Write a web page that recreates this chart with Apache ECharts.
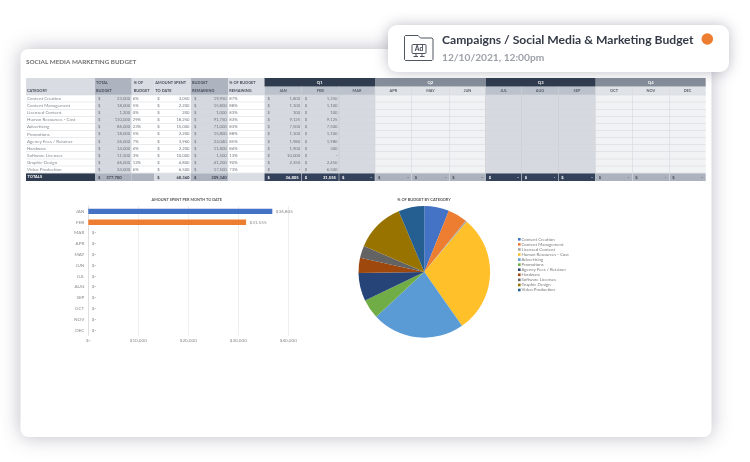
<!DOCTYPE html>
<html><head><meta charset="utf-8">
<style>html,body{margin:0;padding:0;background:#fff}#c{width:750px;height:462px}</style>
<script src="https://cdn.jsdelivr.net/npm/echarts@6/dist/echarts.min.js"></script>
</head><body><div id="c"></div>
<script>
const categories=['Content Creation','Content Management','Licensed Content','Human Resources - Cost','Advertising','Promotions','Agency Fees / Retainer','Hardware','Software Licenses','Graphic Design','Video Production'];
const totalBudget=[23000,18000,1200,110000,86000,18000,26000,14000,11500,46000,24000];
const pctBudget=['6%','5%','0%','29%','23%','5%','7%','4%','3%','12%','6%'];
const spent=[3050,2200,200,18250,15000,2200,3960,2200,10000,4800,6500];
const remaining=[19950,15800,1000,91750,71000,15800,22040,11800,1500,41200,17500];
const pctRemaining=['87%','88%','83%','83%','83%','88%','85%','84%','13%','90%','73%'];
const janSpend=[1800,1100,100,9125,7500,1100,1980,1900,10000,2350,0];
const febSpend=[1250,1100,100,9125,7500,1100,1980,300,0,2450,6500];
const totals={budget:377700,spent:68360,remaining:309340,jan:36805,feb:31555};
const months=['JAN','FEB','MAR','APR','MAY','JUN','JUL','AUG','SEP','OCT','NOV','DEC'];
const monthTotals=[36805,31555,0,0,0,0,0,0,0,0,0,0];
const barColors=['#4472c4','#ed7d31'];
const pieColors=['#4472c4','#ed7d31','#a5a5a5','#ffc02a','#5b9bd5','#70ad47','#264478','#9e480e','#636363','#997300','#255e91'];
const quarters=['Q1','Q2','Q3','Q4'];
const FONT='Lato, "Noto Sans", sans-serif';
const fmt=v=>v.toLocaleString('en-US');
const gr=[];
function rect(x,y,w,h,fill,z){gr.push({type:'rect',silent:true,z:z||2,shape:{x,y,width:w,height:h},style:{fill}});}
function txt(x,y,t,o){o=o||{};gr.push({type:'text',silent:true,z:o.z||4,x,y,style:{text:t,fill:o.c||'#70757d',font:(o.w||'400')+' '+(o.s||4.2)+'px '+(o.f||FONT),textAlign:o.a||'left',textVerticalAlign:'middle'}});}
function poly(pts,close){gr.push({type:'polyline',silent:true,z:21,shape:{points:close?pts.concat([pts[0]]):pts},style:{fill:'none',stroke:'#3c4250',lineWidth:0.9,lineJoin:'round'}});}
// sheet card
gr.push({type:'rect',silent:true,z:1,shape:{x:20.5,y:49,width:691,height:388,r:8},style:{fill:'#fff',shadowBlur:20,shadowColor:'rgba(70,70,95,0.36)'}});
txt(26,62,'SOCIAL MEDIA MARKETING BUDGET',{s:6.3,w:'700',c:'#707070'});
// table geometry
const colX=[26,95,131.7,154.3,191,228.3,264.5,301.7,339,375,411.7,449.3,485.7,521.7,558.3,595.7,632.3,669.3,705.7];
const y0=78,y1=86.5,y2=95,rowH=7.1,yT=y2+11*rowH+0.2,yEnd=181;
const HDK='#2f3b4f',HMID='#adb4c0',HLT='#d9dde3',SH='#d5d9df';
const colHeadFill=[HLT,HMID,HLT,HLT,HMID,HLT];
const colBody=['#fff',SH,'#fff','#fff',SH,'#fff'];
const colTot=[HDK,HMID,HMID,HLT,HMID,HLT];
for(let c=0;c<6;c++){
 const x=colX[c],w=colX[c+1]-x;
 rect(x,y0,w,y2-y0,colHeadFill[c]);
 rect(x,y2,w,yT-y2,colBody[c]);
 rect(x,yT,w,yEnd-yT,colTot[c]);
}
for(let c=6;c<18;c++){
 const q=Math.floor((c-6)/3),x=colX[c],w=colX[c+1]-x,dark=q%2==0;
 rect(x,y1,w,y2-y1,dark?'#bcc2cc':'#dfe2e6');
 rect(x,y2,w,yT-y2,dark?'#d6dae0':'#f1f2f3');
 rect(x,yT,w,yEnd-yT,dark?'#33415a':'#adb3be');
 txt(x+w/2,(y1+y2)/2,months[c-6],{a:'center',w:'700',c:'#5b616c',s:3.9});
 txt(x+3,(yT+yEnd)/2,'$',{c:dark?'#fff':'#444b57',w:'700'});
 const v=c==6?totals.jan:c==7?totals.feb:null;
 txt(x+w-3,(yT+yEnd)/2,v?fmt(v):'-',{a:'right',c:dark?'#fff':'#444b57',w:'700'});
 if(c>6)rect(x-0.3,y1,0.6,yEnd-y1,dark?'#c3c7ce':'#d4d7dc',3);
}
quarters.forEach((q,i)=>{const x=colX[6+i*3],w=colX[9+i*3]-x;
 rect(x,y0,w,y1-y0,i%2==0?HDK:'#868d9a');
 txt(x+w/2,(y0+y1)/2,q,{a:'center',w:'700',c:'#fff',s:4.2});
});
// header text
const headers=[['','CATEGORY'],['TOTAL','BUDGET'],['% OF','BUDGET'],['AMOUNT SPENT','TO DATE'],['BUDGET','REMAINING'],['% OF BUDGET','REMAINING']];
headers.forEach((h,c)=>{const x=colX[c]+1;const ax=c==2?colX[c]+1.5:x;
 txt(c==2?colX[c]+2:ax,(y0+y1)/2,h[0],{w:'700',c:'#4a505c',s:3.9});
 txt(c==2?colX[c]+2:ax,(y1+y2)/2,h[1],{w:'700',c:'#4a505c',s:3.9});
});
for(let r=0;r<=11;r++){rect(colX[0],y2+r*rowH-0.25,colX[18]-colX[0],0.5,'#d2d5da',3);}
categories.forEach((n,r)=>{const y=y2+(r+0.5)*rowH;
 txt(colX[0]+1,y,n,{s:4.5,c:'#858a91'});
 [[1,totalBudget],[3,spent],[4,remaining]].forEach(p=>{const c=p[0];
  txt(colX[c]+3,y,'$');txt(colX[c+1]-1.5,y,fmt(p[1][r]),{a:'right'});
 });
 txt(colX[2]+1,y,pctBudget[r]);txt(colX[5]+1,y,pctRemaining[r]);
 [[6,janSpend],[7,febSpend]].forEach(p=>{const c=p[0],v=p[1][r];
  txt(colX[c]+3,y,'$');txt(colX[c+1]-1.5,y,v?fmt(v):'-',{a:'right'});
 });
});
const ty=(yT+yEnd)/2;
txt(colX[0]+1.5,ty,'TOTALS',{c:'#fff',w:'700',s:4});
[[1,totals.budget],[3,totals.spent],[4,totals.remaining]].forEach(p=>{
 txt(colX[p[0]]+3,ty,'$',{c:'#3e4450',w:'700'});
 txt(colX[p[0]+1]-(p[0]==1?10:1.5),ty,fmt(p[1]),{a:'right',c:'#3e4450',w:'700'});
});
// popup
gr.push({type:'rect',silent:true,z:20,shape:{x:388,y:25,width:341,height:47,r:9},style:{fill:'#fff',shadowBlur:14,shadowColor:'rgba(70,70,95,0.35)'}});
poly([[405.5,35.5],[418,35.5],[420.5,38],[432,38],[433,39],[433,59.5],[432,60.5],[405.5,60.5],[404.5,59.5],[404.5,36.5]],true);
gr.push({type:'rect',silent:true,z:21,shape:{x:412,y:44.5,width:14,height:9,r:1},style:{fill:'none',stroke:'#3c4250',lineWidth:0.9}});
poly([[416,53.5],[416,56.5]]);poly([[422,53.5],[422,56.5]]);poly([[413.5,56.5],[418,56.5]]);poly([[420,56.5],[424.5,56.5]]);
txt(419,49.2,'Ad',{z:22,a:'center',s:6.8,w:'700',c:'#3c4250'});
txt(442,40.3,'Campaigns / Social Media & Marketing Budget',{z:22,s:12.15,w:'700',c:'#343a46',f:'Lato'});
txt(442,57.8,'12/10/2021, 12:00pm',{z:22,s:10.2,w:'700',c:'#9b9fa7',f:'Lato'});
gr.push({type:'circle',silent:true,z:22,shape:{cx:707.3,cy:39,r:5.8},style:{fill:'#ed7d31'}});

const chart=echarts.init(document.getElementById('c'),null,{renderer:'canvas'});
const axisText={color:'#8a8a8a',fontSize:4.6,fontFamily:FONT};
chart.setOption({
 animation:false,
 backgroundColor:'#fff',
 title:[
  {text:'AMOUNT SPENT PER MONTH TO DATE',left:186.7,top:198,padding:0,textAlign:'center',textStyle:{fontSize:3.8,fontWeight:700,color:'#555',fontFamily:FONT}},
  {text:'% OF BUDGET BY CATEGORY',left:424,top:198,padding:0,textAlign:'center',textStyle:{fontSize:3.9,fontWeight:700,color:'#555',fontFamily:FONT}}
 ],
 grid:{left:88.3,top:206,width:200,height:129.5,containLabel:false,z:3},
 xAxis:{type:'value',min:0,max:40000,interval:10000,z:3,
  axisLine:{show:false},axisTick:{show:false},
  splitLine:{lineStyle:{color:'#e6e6e6',width:0.7}},
  axisLabel:Object.assign({margin:3,formatter:v=>v===0?'$-':'$'+fmt(v)},axisText)},
 yAxis:{type:'category',inverse:true,data:months,z:3,
  axisLine:{lineStyle:{color:'#d9d9d9',width:0.7}},axisTick:{show:false},
  axisLabel:Object.assign({margin:4},axisText)},
 legend:{orient:'vertical',left:518,top:236.8,padding:0,itemWidth:2.6,itemHeight:2.6,itemGap:0.07,icon:'rect',
  data:categories,selectedMode:false,textStyle:{fontSize:4.4,lineHeight:5,color:'#7a7a7a',fontFamily:FONT,padding:[0,0,0,-4.2]}},
 series:[
  {type:'bar',barWidth:5.4,silent:true,z:4,
   data:monthTotals.map((v,i)=>({value:v,itemStyle:{color:barColors[i]||'#4472c4'}})),
   label:{show:true,position:'right',distance:3.5,fontSize:4.6,color:'#8a8a8a',fontFamily:FONT,formatter:p=>p.value?'$'+fmt(p.value):'$-'}},
  {type:'pie',silent:true,z:4,center:[424.3,271.9],radius:[0,65.8],startAngle:90,clockwise:true,label:{show:false},labelLine:{show:false},
   color:pieColors,itemStyle:{borderWidth:0},
   data:categories.map((n,i)=>({name:n,value:totalBudget[i]}))}
 ],
 graphic:{elements:gr}
});
</script></body></html>
